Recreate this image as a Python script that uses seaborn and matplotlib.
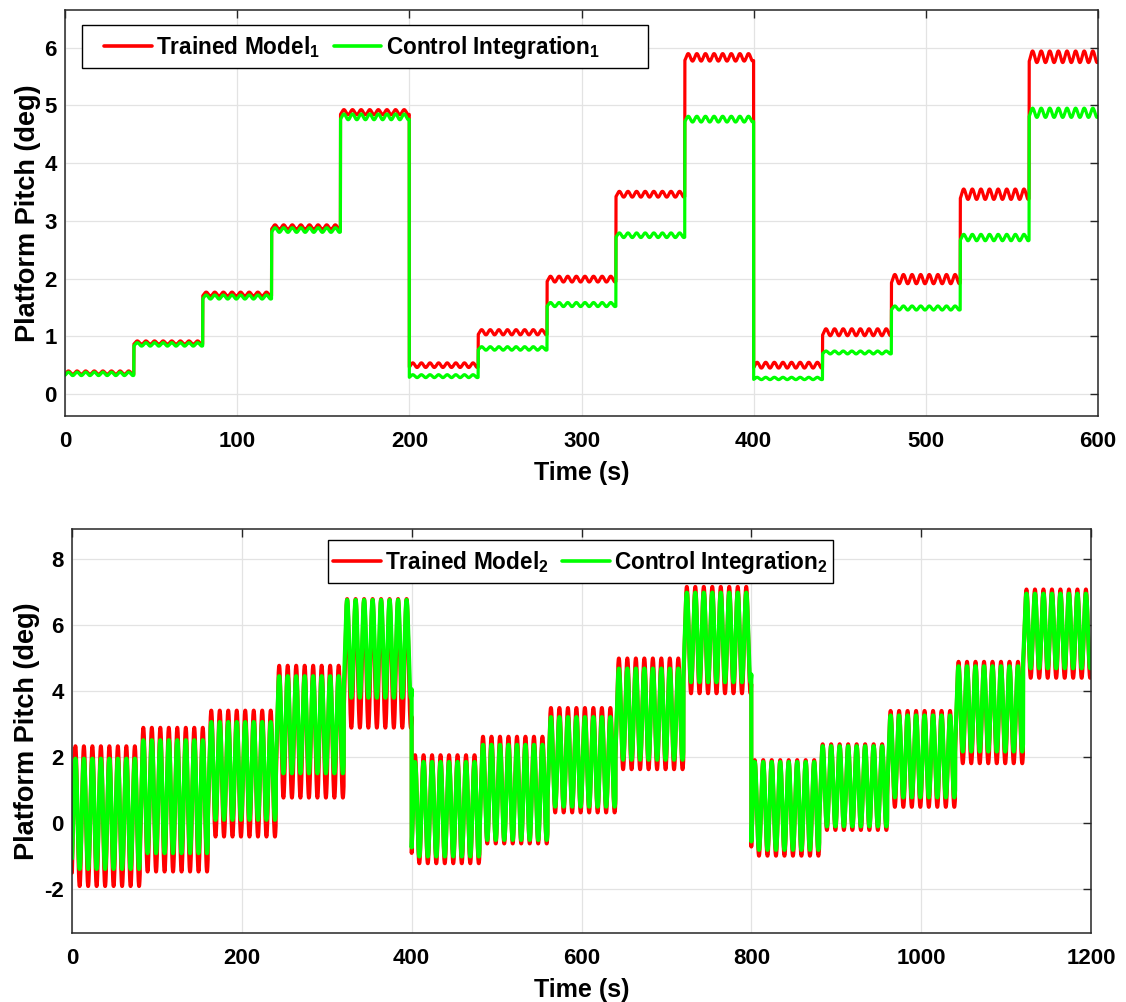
import numpy as np
import pandas as pd
import matplotlib
matplotlib.use("Agg")
import matplotlib.pyplot as plt
import seaborn as sns
from matplotlib.lines import Line2D
from matplotlib.patches import Rectangle

# ---------------- data ----------------
# Top panel: 15 steps of 40 s, small oscillation (period ~5 s)
step_len_top = 40
period_top = 5.0
red_level_top = [0.37, 0.89, 1.73, 2.89, 4.88, 0.50, 1.07, 1.99, 3.46, 5.83, 0.50, 1.07, 1.99, 3.46, 5.84]
red_amp_top = [0.03, 0.03, 0.035, 0.04, 0.045, 0.04, 0.045, 0.05, 0.05, 0.065, 0.05, 0.06, 0.08, 0.09, 0.10]
green_level_top = [0.35, 0.86, 1.68, 2.84, 4.80, 0.31, 0.79, 1.55, 2.75, 4.76, 0.27, 0.72, 1.49, 2.71, 4.87]
green_amp_top = [0.03, 0.03, 0.035, 0.04, 0.05, 0.025, 0.03, 0.035, 0.04, 0.05, 0.02, 0.025, 0.035, 0.055, 0.08]

# Bottom panel: 15 steps of 80 s, large oscillation (period ~10 s); peak / trough per step
step_len_bot = 80
period_bot = 10.0
red_max_bot = [2.34, 2.90, 3.42, 4.78, 6.80, 2.07, 2.63, 3.50, 5.00, 7.17, 1.92, 2.40, 3.41, 4.90, 7.09]
red_min_bot = [-1.90, -1.46, -0.40, 0.78, 2.90, -1.21, -0.61, 0.33, 1.64, 3.94, -0.98, -0.20, 0.50, 1.82, 4.41]
green_max_bot = [1.96, 2.52, 3.07, 4.46, 6.77, 1.86, 2.38, 3.22, 4.69, 6.99, 1.86, 2.34, 3.27, 4.76, 6.96]
green_min_bot = [-1.38, -0.90, 0.11, 1.52, 3.81, -1.00, -0.50, 0.51, 1.93, 4.28, -0.80, -0.09, 0.79, 2.18, 4.70]

top_xticks = [0, 100, 200, 300, 400, 500, 600]
top_yticks = [0, 1, 2, 3, 4, 5, 6]
bot_xticks = [0, 200, 400, 600, 800, 1000, 1200]
bot_yticks = [-2, 0, 2, 4, 6, 8]

labels_top = [r"Trained Model$_1$", r"Control Integration$_1$"]
labels_bot = [r"Trained Model$_2$", r"Control Integration$_2$"]
RED = "#ff0000"
GREEN = "#00ff00"


def build(levels, amps, step_len, period, phase, dt=0.05):
    levels = np.asarray(levels, float)
    amps = np.asarray(amps, float)
    n = len(levels)
    t = np.arange(0, n * step_len + dt / 2, dt)
    idx = np.minimum((t // step_len).astype(int), n - 1)
    return t, levels[idx] + amps[idx] * np.sin(2 * np.pi * (t - phase) / period)


def mid_amp(mx, mn):
    mx = np.asarray(mx, float)
    mn = np.asarray(mn, float)
    return (mx + mn) / 2, (mx - mn) / 2


t1r, y1r = build(red_level_top, red_amp_top, step_len_top, period_top, 0.75)
t1g, y1g = build(green_level_top, green_amp_top, step_len_top, period_top, 0.75)
rl, ra = mid_amp(red_max_bot, red_min_bot)
gl, ga = mid_amp(green_max_bot, green_min_bot)
t2r, y2r = build(rl, ra, step_len_bot, period_bot, 1.5)
t2g, y2g = build(gl, ga, step_len_bot, period_bot, 1.5)

# ---------------- style ----------------
sns.set_theme(style="whitegrid")
plt.rcParams["font.family"] = ["Liberation Sans", "DejaVu Sans"]
plt.rcParams.update({
    "font.weight": "bold",
    "axes.labelweight": "bold",
    "mathtext.fontset": "custom",
    "mathtext.rm": "Liberation Sans:bold",
    "mathtext.it": "Liberation Sans:bold",
    "mathtext.bf": "Liberation Sans:bold",
    "mathtext.default": "bf",
    "axes.unicode_minus": False,
    "axes.edgecolor": "#262626",
    "axes.linewidth": 1.1,
    "grid.color": "#e3e3e3",
    "grid.linewidth": 0.9,
    "text.color": "black",
    "axes.labelcolor": "black",
    "xtick.color": "black",
    "ytick.color": "black",
})

fig = plt.figure(figsize=(11.26, 10.02), dpi=100)
ax1 = fig.add_axes([65 / 1126, 1 - 416 / 1002, 1033 / 1126, 406 / 1002])
ax2 = fig.add_axes([72 / 1126, 1 - 933 / 1002, 1019 / 1126, 404 / 1002])


def style_axes(ax, xlim, ylim, xticks, yticks):
    ax.set_xlim(*xlim)
    ax.set_ylim(*ylim)
    ax.set_xticks(xticks)
    ax.set_yticks(yticks)
    ax.grid(True, color="#e3e3e3", linewidth=0.9)
    ax.tick_params(axis="both", which="both", direction="in", top=True, right=True,
                   length=6, width=1, colors="#262626", labelcolor="black", labelsize=16)
    ax.tick_params(axis="x", pad=11)
    ax.tick_params(axis="y", pad=6)
    for sp in ax.spines.values():
        sp.set_color("#262626")
        sp.set_linewidth(1.1)
    ax.set_xlabel("Time (s)", fontsize=18, fontweight="bold", labelpad=6)
    ax.set_ylabel("Platform Pitch (deg)", fontsize=19.5, fontweight="bold", labelpad=2.5)


sns.lineplot(x=t1r, y=y1r, color=RED, estimator=None, sort=False, linewidth=2.3, ax=ax1)
sns.lineplot(x=t1g, y=y1g, color=GREEN, estimator=None, sort=False, linewidth=2.3, ax=ax1)
style_axes(ax1, (0, 600), (-0.38, 6.65), top_xticks, top_yticks)

sns.lineplot(x=t2r, y=y2r, color=RED, estimator=None, sort=False, linewidth=2.8, ax=ax2)
sns.lineplot(x=t2g, y=y2g, color=GREEN, estimator=None, sort=False, linewidth=3.0, ax=ax2)
style_axes(ax2, (0, 1200), (-3.32, 8.92), bot_xticks, bot_yticks)

handles = [Line2D([], [], color=RED, lw=2.6), Line2D([], [], color=GREEN, lw=2.6)]
leg_kw = dict(ncol=2, fontsize=16.3, handlelength=2.1, handletextpad=0.2, columnspacing=0.6,
              borderpad=0.4, borderaxespad=0.0, frameon=False, loc="upper left")


def framed_legend(ax, labels, box_px, anchor_x_px, ax_px):
    # box_px: (x0, y0, x1, y1) in figure pixels (y downward); ax_px: (left, top, right, bottom)
    L, T, R, B = ax_px
    W, H = R - L, B - T
    fx0 = (box_px[0] - L) / W
    fx1 = (box_px[2] - L) / W
    fy_top = 1 - (box_px[1] - T) / H
    fy_bot = 1 - (box_px[3] - T) / H
    ax.add_patch(Rectangle((fx0, fy_bot), fx1 - fx0, fy_top - fy_bot, transform=ax.transAxes,
                           facecolor="white", edgecolor="black", linewidth=1.0, zorder=4.5))
    ax.legend(handles, labels, bbox_to_anchor=((anchor_x_px - L) / W, fy_top), **leg_kw)


framed_legend(ax1, labels_top, (82, 25, 648, 68), 95, (65, 10, 1098, 416))
framed_legend(ax2, labels_bot, (328, 540, 833, 583), 324, (72, 529, 1091, 933))

fig.savefig("out.png", dpi=100)
